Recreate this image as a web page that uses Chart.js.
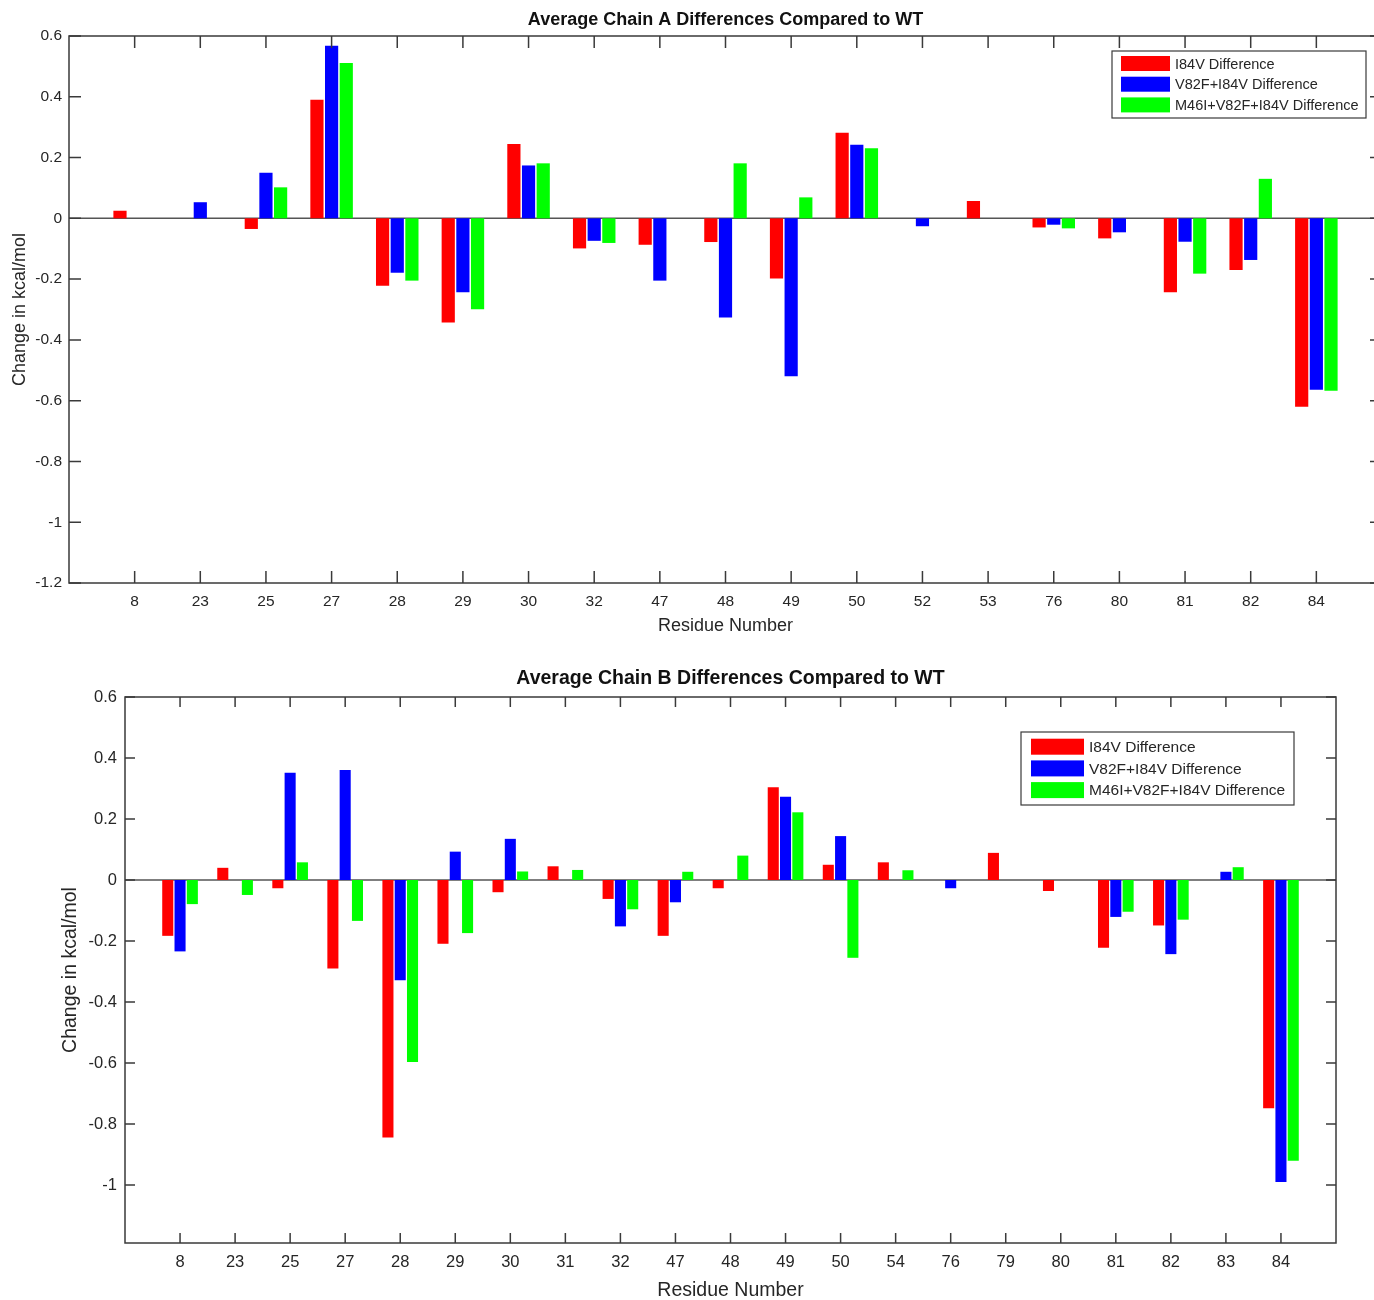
<!DOCTYPE html>
<html>
<head>
<meta charset="utf-8">
<script src="https://cdn.jsdelivr.net/npm/chart.js@4/dist/chart.umd.min.js"></script>
<style>
  html, body { margin: 0; padding: 0; background: #fff; overflow: hidden; width: 1374px; height: 1300px; }
  canvas { position: absolute; left: 0; }
  #chainA { top: 0; }
  #chainB { top: 650px; }
</style>
</head>
<body>
<canvas id="chainA" width="1400" height="650"></canvas>
<canvas id="chainB" width="1400" height="650"></canvas>
<script>
// ---- Chain A ----
const residuesA = ['8','23','25','27','28','29','30','32','47','48','49','50','52','53','76','80','81','82','84'];
const i84vA = [0.025, 0, -0.035, 0.39, -0.222, -0.343, 0.245, -0.099, -0.087, -0.078, -0.198, 0.282, 0, 0.057, -0.03, -0.066, -0.243, -0.17, -0.62];
const v82fI84vA = [0, 0.053, 0.15, 0.568, -0.179, -0.243, 0.174, -0.074, -0.205, -0.326, -0.52, 0.242, -0.026, 0, -0.021, -0.046, -0.077, -0.137, -0.564];
const m46iV82fI84vA = [0, 0, 0.102, 0.511, -0.205, -0.299, 0.181, -0.081, 0, 0.181, 0.069, 0.231, 0, 0, -0.033, 0, -0.182, 0.13, -0.567];
const yTicksA = [0.6, 0.4, 0.2, 0, -0.2, -0.4, -0.6, -0.8, -1, -1.2];

// ---- Chain B ----
const residuesB = ['8','23','25','27','28','29','30','31','32','47','48','49','50','54','76','79','80','81','82','83','84'];
const i84vB = [-0.183, 0.04, -0.027, -0.29, -0.844, -0.209, -0.04, 0.045, -0.062, -0.183, -0.027, 0.304, 0.05, 0.058, 0, 0.089, -0.036, -0.222, -0.149, 0, -0.748];
const v82fI84vB = [-0.234, 0, 0.352, 0.361, -0.329, 0.093, 0.135, 0, -0.152, -0.073, 0, 0.273, 0.144, 0, -0.027, 0, 0, -0.121, -0.243, 0.027, -0.99];
const m46iV82fI84vB = [-0.079, -0.049, 0.058, -0.134, -0.597, -0.174, 0.028, 0.033, -0.096, 0.027, 0.08, 0.222, -0.255, 0.032, 0, 0, 0, -0.104, -0.13, 0.042, -0.92];
const yTicksB = [0.6, 0.4, 0.2, 0, -0.2, -0.4, -0.6, -0.8, -1];

const seriesLabels = ['I84V Difference', 'V82F+I84V Difference', 'M46I+V82F+I84V Difference'];
const seriesColors = ['#ff0000', '#0000ff', '#00ff00'];

const FONT = "'Liberation Sans', Arial, Helvetica, sans-serif";
const INK = '#262626';
const AXIS = '#3a3a3a';

// Box around the plot with inward-pointing tick marks and the zero baseline
const frame = {
  id: 'frame',
  beforeDatasetsDraw(chart) {
    const { ctx, chartArea: a, scales: { y } } = chart;
    const y0 = y.getPixelForValue(0);
    ctx.save();
    ctx.strokeStyle = '#555555';
    ctx.lineWidth = 1.5;
    ctx.beginPath();
    ctx.moveTo(a.left, y0);
    ctx.lineTo(a.right, y0);
    ctx.stroke();
    ctx.restore();
  },
  afterDatasetsDraw(chart, _args, o) {
    const { ctx, chartArea: a, scales: { x, y } } = chart;
    ctx.save();
    ctx.strokeStyle = AXIS;
    ctx.lineWidth = 1.5;
    ctx.strokeRect(a.left, a.top, a.right - a.left, a.bottom - a.top);
    ctx.beginPath();
    x.ticks.forEach(t => {
      const px = x.getPixelForValue(t.value);
      ctx.moveTo(px, a.top); ctx.lineTo(px, a.top + o.tick);
      ctx.moveTo(px, a.bottom); ctx.lineTo(px, a.bottom - o.tick);
    });
    y.ticks.forEach(t => {
      const py = y.getPixelForValue(t.value);
      ctx.moveTo(a.left, py); ctx.lineTo(a.left + o.tick, py);
      ctx.moveTo(a.right, py); ctx.lineTo(a.right - o.tick, py);
    });
    ctx.stroke();
    ctx.restore();
  }
};

// Boxed legend inside the plot area
const boxLegend = {
  id: 'boxLegend',
  afterDraw(chart, _args, o) {
    const { ctx, chartArea: a } = chart;
    const x0 = a.right - o.offsetRight - o.width;
    const y0 = a.top + o.offsetTop;
    ctx.save();
    ctx.fillStyle = '#ffffff';
    ctx.fillRect(x0, y0, o.width, o.height);
    ctx.strokeStyle = AXIS;
    ctx.lineWidth = 1.2;
    ctx.strokeRect(x0, y0, o.width, o.height);
    ctx.font = `${o.fontSize}px ${FONT}`;
    ctx.textAlign = 'left';
    ctx.textBaseline = 'middle';
    chart.data.datasets.forEach((ds, i) => {
      const cy = y0 + o.firstRow + i * o.rowGap;
      ctx.fillStyle = ds.backgroundColor;
      ctx.fillRect(x0 + o.swatchX, cy - o.swatchH / 2, o.swatchW, o.swatchH);
      ctx.fillStyle = INK;
      ctx.fillText(ds.label, x0 + o.textX, cy + 1);
    });
    ctx.restore();
  }
};

// Bold heading centred over the plot
const heading = {
  id: 'heading',
  afterDraw(chart, _args, o) {
    const { ctx, chartArea: a } = chart;
    ctx.save();
    ctx.font = `bold ${o.size}px ${FONT}`;
    ctx.fillStyle = '#111111';
    ctx.textAlign = 'center';
    ctx.textBaseline = 'middle';
    ctx.fillText(o.text, (a.left + a.right) / 2, o.y);
    ctx.restore();
  }
};

const fmtTick = v => String(Number(v.toFixed(1)));

function makeChart(id, residues, series, yTicks, c) {
  const toPoints = arr => arr.map((v, i) => ({ x: i + 1, y: v }));
  return new Chart(document.getElementById(id), {
    type: 'bar',
    data: {
      datasets: series.map((arr, k) => ({
        label: seriesLabels[k],
        data: toPoints(arr),
        backgroundColor: seriesColors[k],
        borderWidth: 0
      }))
    },
    options: {
      responsive: false,
      animation: false,
      devicePixelRatio: 1,
      layout: { padding: { top: c.padTop, right: c.padRight, left: 0, bottom: 0 } },
      datasets: { bar: { categoryPercentage: 0.67, barPercentage: 0.9 } },
      plugins: {
        legend: { display: false },
        tooltip: { enabled: false },
        frame: { tick: c.tickLen },
        boxLegend: c.legend,
        heading: c.heading
      },
      scales: {
        x: {
          type: 'linear',
          offset: false,
          min: 0,
          max: residues.length + 1,
          grid: { display: false, drawTicks: false },
          border: { display: false },
          afterBuildTicks: s => { s.ticks = residues.map((_, i) => ({ value: i + 1 })); },
          ticks: {
            autoSkip: false, maxRotation: 0, padding: c.xTickPad, color: INK,
            font: { family: FONT, size: c.tickSize },
            callback: v => residues[v - 1]
          },
          title: {
            display: true, text: 'Residue Number', color: INK,
            font: { family: FONT, size: c.titleSize, lineHeight: 1 },
            padding: { top: 0, bottom: c.xTitlePad }
          },
          afterFit: s => { s.height = c.xHeight; }
        },
        y: {
          min: c.yMin,
          max: 0.6,
          grid: { display: false, drawTicks: false },
          border: { display: false },
          afterBuildTicks: s => { s.ticks = yTicks.map(v => ({ value: v })); },
          ticks: {
            padding: c.yTickPad, color: INK,
            font: { family: FONT, size: c.tickSize },
            callback: v => fmtTick(v)
          },
          title: {
            display: true, text: 'Change in kcal/mol', color: INK,
            font: { family: FONT, size: c.titleSize, lineHeight: 1 },
            padding: { top: c.yTitlePad, bottom: 0 }
          },
          afterFit: s => { s.width = c.yWidth; }
        }
      }
    },
    plugins: [frame, boxLegend, heading]
  });
}

makeChart('chainA', residuesA, [i84vA, v82fI84vA, m46iV82fI84vA], yTicksA, {
  padTop: 36, padRight: 18, yWidth: 69, xHeight: 67, yMin: -1.2,
  tickSize: 15.5, titleSize: 18, xTickPad: 9, yTickPad: 7, xTitlePad: 15, yTitlePad: 11, tickLen: 12,
  heading: { text: 'Average Chain A Differences Compared to WT', size: 18, y: 20 },
  legend: { offsetRight: 16, offsetTop: 15, width: 254, height: 67, swatchX: 9, swatchW: 49, swatchH: 15,
            textX: 63, firstRow: 12.5, rowGap: 20.7, fontSize: 14.5 }
});

makeChart('chainB', residuesB, [i84vB, v82fI84vB, m46iV82fI84vB], yTicksB, {
  padTop: 47, padRight: 64, yWidth: 125, xHeight: 57, yMin: -1.19,
  tickSize: 16.5, titleSize: 19.5, xTickPad: 10, yTickPad: 8, xTitlePad: 0, yTitlePad: 61, tickLen: 10,
  heading: { text: 'Average Chain B Differences Compared to WT', size: 19.5, y: 29 },
  legend: { offsetRight: 42, offsetTop: 35, width: 273, height: 73, swatchX: 10, swatchW: 53, swatchH: 16,
            textX: 68, firstRow: 14.7, rowGap: 21.7, fontSize: 15.5 }
});
</script>
</body>
</html>
